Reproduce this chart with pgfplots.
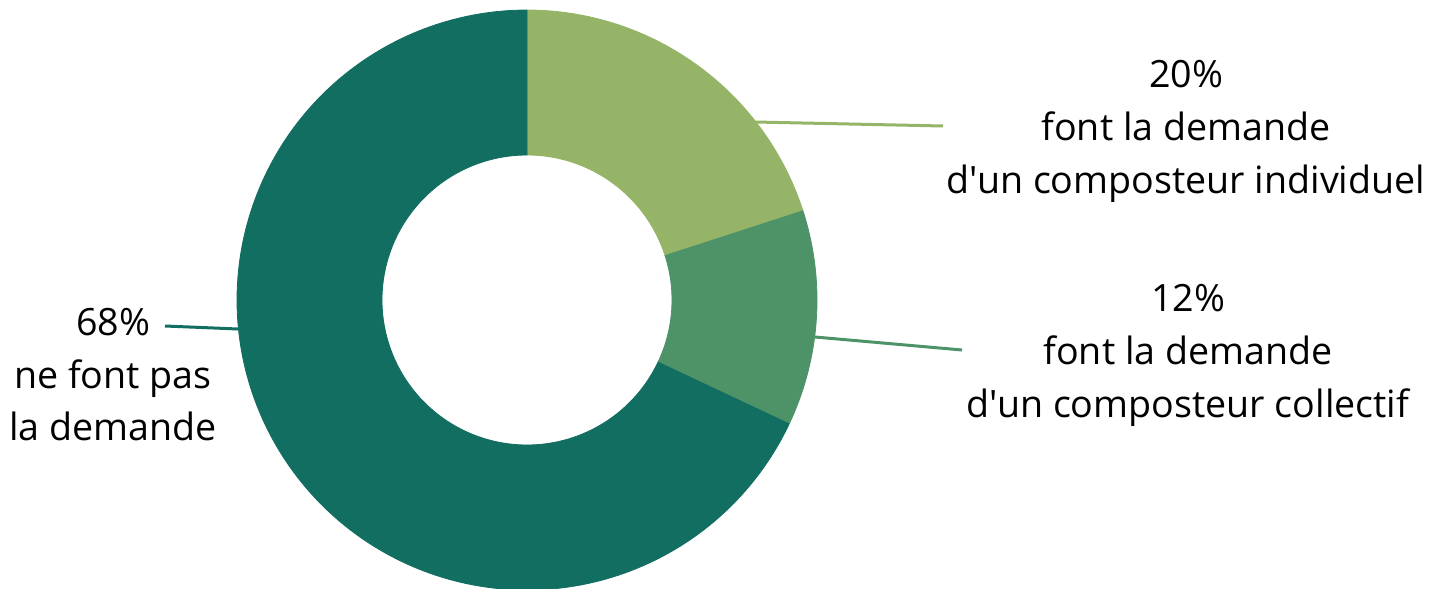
\documentclass[border=0pt]{standalone}
\usepackage{pgfplots}
\pgfplotsset{compat=1.18}
\usepackage{fontspec}
\setmainfont{Open Sans}[Ligatures=TeXOff]
\definecolor{cA}{HTML}{96B468}
\definecolor{cB}{HTML}{4E9268}
\definecolor{cC}{HTML}{126E61}
\tikzset{lbl/.style={font=\fontsize{18.8bp}{26.5bp}\selectfont, inner sep=0pt, anchor=base, text=black}}
% ring sector: #1 start angle, #2 end angle; t in [0,2.2]
\newcommand{\ringfrac}{ifthenelse(\t<1.1, min(\t,1), 1-min(max(\t-1.2,0),1))}
\newcommand{\ringrad}{ifthenelse(\t<1.1,290,145)}
\begin{document}
\begin{tikzpicture}
% values (percent)
\pgfmathsetmacro{\va}{20}
\pgfmathsetmacro{\vb}{12}
\pgfmathsetmacro{\vc}{68}
\pgfmathsetmacro{\aS}{90}
\pgfmathsetmacro{\aA}{\aS-3.6*\va}
\pgfmathsetmacro{\aB}{\aA-3.6*\vb}
\pgfmathsetmacro{\aC}{\aB-3.6*\vc}
\begin{axis}[scale only axis, width=714.5bp, height=294.5bp,
  xmin=0, xmax=1429, ymin=0, ymax=589, y dir=reverse,
  hide axis, clip=false, no markers]
\addplot[fill=cA, draw=cA, line width=0.4bp, domain=0:2.2, samples=265, variable=\t]
 ({527+\ringrad*cos(\aS+(\aA-\aS)*\ringfrac)},
  {300-\ringrad*sin(\aS+(\aA-\aS)*\ringfrac)});
\addplot[fill=cB, draw=cB, line width=0.4bp, domain=0:2.2, samples=265, variable=\t]
 ({527+\ringrad*cos(\aA+(\aB-\aA)*\ringfrac)},
  {300-\ringrad*sin(\aA+(\aB-\aA)*\ringfrac)});
\addplot[fill=cC, draw=cC, line width=0.4bp, domain=0:2.2, samples=441, variable=\t]
 ({527+\ringrad*cos(\aB+(\aC-\aB)*\ringfrac)},
  {300-\ringrad*sin(\aB+(\aC-\aB)*\ringfrac)});
% leader lines
\addplot[cA, line width=1.5bp] coordinates {(755,122) (943,126)};
\addplot[cB, line width=1.5bp] coordinates {(815,337) (962,350)};
\addplot[cC, line width=1.5bp] coordinates {(238,329) (165,326)};
% labels
\node[lbl] at (axis cs:1186,87) {20\%};
\node[lbl] at (axis cs:1186,140) {font la demande};
\node[lbl] at (axis cs:1186,193) {d'un composteur individuel};
\node[lbl] at (axis cs:1188,311) {12\%};
\node[lbl] at (axis cs:1188,364) {font la demande};
\node[lbl] at (axis cs:1188,417) {d'un composteur collectif};
\node[lbl] at (axis cs:113,335) {68\%};
\node[lbl] at (axis cs:113,388) {ne font pas};
\node[lbl] at (axis cs:113,440) {la demande};
\end{axis}
\pgfresetboundingbox
\path[use as bounding box] (current axis.south west) rectangle (current axis.north east);
\end{tikzpicture}
\end{document}
